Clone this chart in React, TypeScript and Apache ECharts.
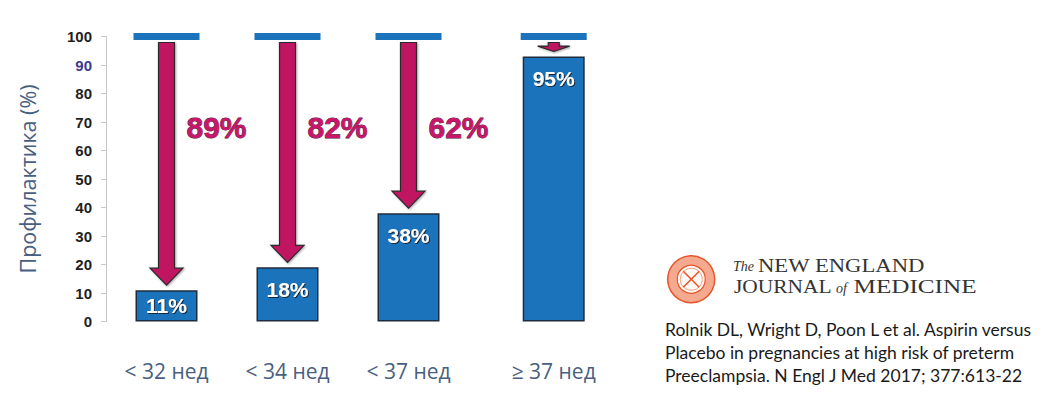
import React, { useEffect, useRef } from "react";
import * as echarts from "echarts";

// ---- data ----
const categories = ["< 32 нед", "< 34 нед", "< 37 нед", "≥ 37 нед"];
const catPos = [1, 2, 3, 4.2];
const barValues = [11, 19, 38, 93];
const barLabels = ["11%", "18%", "38%", "95%"];
const reductionLabels = ["89%", "82%", "62%", ""];
const baseline = 100;
const yTitle = "Профилактика (%)";
const citation = [
  "Rolnik DL, Wright D, Poon L et al. Aspirin versus",
  "Placebo in pregnancies at high risk of preterm",
  "Preeclampsia. N Engl J Med 2017; 377:613-22",
];

const BLUE = "#1a73bb";
const MAGENTA = "#c01562";
const SLATE = "#4a5f80";

export default function App() {
  const ref = useRef<HTMLDivElement>(null);

  useEffect(() => {
    if (!ref.current) return;
    const chart = echarts.init(ref.current, undefined, { renderer: "svg" });

    const serif = (text: string, x: number, y: number, sx: number) => ({
      type: "text",
      x,
      y,
      scaleX: sx,
      style: { text, font: '18px "Liberation Serif"', fill: "#333", verticalAlign: "middle", textVerticalAlign: "middle" },
    });
    const small = (text: string, x: number, y: number) => ({
      type: "text",
      x,
      y,
      style: { text, font: 'italic 14px "Liberation Serif"', fill: "#333", verticalAlign: "middle", textVerticalAlign: "middle" },
    });

    const option: any = {
      animation: false,
      backgroundColor: "#ffffff",
      grid: { left: 106, right: 419.7, top: 36.5, bottom: 73.5, containLabel: false },
      xAxis: {
        type: "value",
        min: 0.5,
        max: 4.8,
        axisLine: { show: false },
        axisTick: { show: false },
        splitLine: { show: false },
        axisLabel: {
          customValues: catPos,
          formatter: (v: number) => {
            const i = catPos.indexOf(v);
            return i >= 0 ? categories[i] : "";
          },
          margin: 39,
          fontSize: 21,
          fontFamily: "Open Sans",
          color: SLATE,
        },
      },
      yAxis: {
        type: "value",
        min: 0,
        max: 100,
        interval: 10,
        name: yTitle,
        nameLocation: "middle",
        nameRotate: 90,
        nameGap: 68,
        nameTextStyle: { fontSize: 21.5, fontFamily: "Open Sans", color: SLATE },
        axisLine: { show: true, lineStyle: { color: "#c8c8c8", width: 1 } },
        axisTick: { show: true, length: 5, lineStyle: { color: "#c8c8c8" } },
        splitLine: { show: false },
        axisLabel: {
          margin: 14,
          fontSize: 15,
          fontWeight: "bold",
          fontFamily: "Liberation Sans",
          color: (v: any) => (Number(v) === 90 ? "#3b3a8c" : "#1f1f1f"),
        },
      },
      graphic: [
        {
          type: "group",
          left: 667,
          top: 255,
          children: [
            { type: "circle", shape: { cx: 23, cy: 24, r: 23.5 }, style: { fill: "#f5a98e", stroke: "#e4572e", lineWidth: 1.5 } },
            { type: "circle", shape: { cx: 23, cy: 24, r: 14 }, style: { fill: "#fff8f4", stroke: "#e4572e", lineWidth: 1.2 } },
            { type: "circle", shape: { cx: 23, cy: 24, r: 11 }, style: { fill: "none", stroke: "#ef8a66", lineWidth: 0.8 } },
            { type: "line", shape: { x1: 15, y1: 16, x2: 31, y2: 32 }, style: { stroke: "#e4572e", lineWidth: 1.6 } },
            { type: "line", shape: { x1: 31, y1: 16, x2: 15, y2: 32 }, style: { stroke: "#e4572e", lineWidth: 1.6 } },
          ],
        },
        small("The", 733, 266),
        serif("NEW ENGLAND", 758, 265.5, 1.26),
        serif("JOURNAL", 734, 286.8, 1.19),
        small("of", 836, 288),
        serif("MEDICINE", 853.5, 286.8, 1.4),
        ...citation.map((t, i) => ({
          type: "text",
          x: 665,
          y: 329 + i * 23,
          style: { text: t, font: '17.5px "Lato"', fill: "#1a1a1a", verticalAlign: "middle", textVerticalAlign: "middle" },
        })),
      ],
      series: [
        {
          type: "bar",
          barWidth: 62,
          data: catPos.map((x, i) => ({
            value: [x, barValues[i]],
            label: barValues[i] < 15 ? { position: "inside" } : undefined,
          })),
          itemStyle: { color: BLUE, borderColor: "#1e2d3d", borderWidth: 1.5 },
          label: {
            show: true,
            position: "insideTop",
            distance: 12,
            formatter: (p: any) => barLabels[p.dataIndex],
            color: "#ffffff",
            fontSize: 21,
            fontWeight: "bold",
            fontFamily: "Liberation Sans",
            textShadowColor: "rgba(20,30,45,0.9)",
            textShadowOffsetX: 1,
            textShadowOffsetY: 1,
            textShadowBlur: 1,
          },
          z: 2,
        },
        {
          type: "scatter",
          symbol: "rect",
          symbolSize: [66, 7],
          clip: false,
          data: catPos.map((x) => [x, baseline]),
          itemStyle: { color: BLUE, opacity: 1 },
          silent: true,
          z: 3,
        },
        {
          type: "custom",
          clip: false,
          z: 4,
          encode: { x: 0, y: 1 },
          data: catPos.map((x, i) => [x, barValues[i]]),
          renderItem: (params: any, api: any) => {
            const x = api.value(0);
            const v = api.value(1);
            const idx = params.dataIndex;
            const top = api.coord([x, baseline]);
            const end = api.coord([x, v]);
            const cx = top[0];
            const y0 = top[1] + 6;
            const tip = end[1] - 5;
            const len = tip - y0;
            const short = len < 30;
            const headH = short ? Math.max(5, len * 0.6) : 17;
            const hw = short ? 16 : 16.5;
            const sw = short ? 5.5 : 8;
            const yh = tip - headH;
            const children: any[] = [
              {
                type: "polygon",
                shape: {
                  points: [
                    [cx - sw, y0],
                    [cx + sw, y0],
                    [cx + sw, yh],
                    [cx + hw, yh],
                    [cx, tip],
                    [cx - hw, yh],
                    [cx - sw, yh],
                  ],
                },
                style: {
                  fill: MAGENTA,
                  stroke: "#2a2a2a",
                  lineWidth: 1.2,
                  shadowBlur: 2,
                  shadowColor: "rgba(0,0,0,0.35)",
                  shadowOffsetX: 1,
                  shadowOffsetY: 1,
                },
              },
            ];
            const lbl = reductionLabels[idx];
            if (lbl) {
              const ly = api.coord([x, 68])[1];
              children.push({
                type: "text",
                x: cx + 20,
                y: ly,
                style: {
                  text: lbl,
                  font: 'bold 30px "Liberation Sans"',
                  fill: "#c8176b",
                  stroke: "#4a0d2a",
                  lineWidth: 0.8,
                  textAlign: "left",
                  textVerticalAlign: "middle",
                  verticalAlign: "middle",
                  shadowColor: "rgba(40,0,20,0.6)",
                  shadowBlur: 1,
                  shadowOffsetX: 2,
                  shadowOffsetY: 2,
                },
              });
            }
            return { type: "group", children };
          },
        },
      ],
    };

    chart.setOption(option);
    return () => chart.dispose();
  }, []);

  return (
    <div
      ref={ref}
      style={{ position: "fixed", left: 0, top: 0, width: 1046, height: 395, background: "#fff" }}
    />
  );
}
